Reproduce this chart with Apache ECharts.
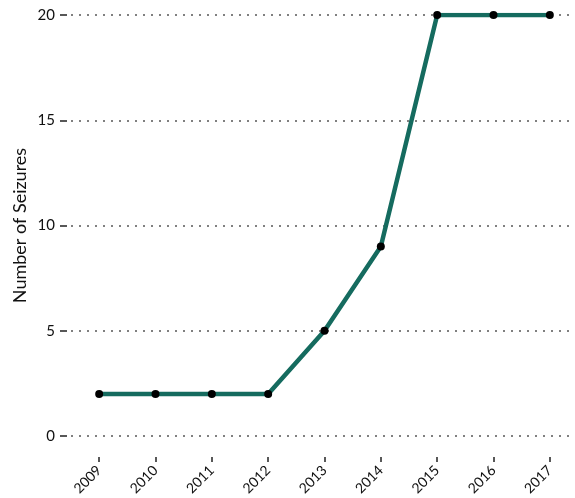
<!DOCTYPE html>
<html><head><meta charset="utf-8">
<script src="https://cdn.jsdelivr.net/npm/echarts@6/dist/echarts.min.js"></script>
<style>html,body{margin:0;padding:0;background:#fff}#c{width:575px;height:498px}</style>
</head><body><div id="c"></div>
<script>
const years = ['2009','2010','2011','2012','2013','2014','2015','2016','2017'];
const seizures = [2, 2, 2, 2, 5, 9, 20, 20, 20];
const yTicks = [0, 5, 10, 15, 20];
const FONT = 'Lato, "Open Sans", sans-serif';
const chart = echarts.init(document.getElementById('c'), null, {renderer:'canvas'});
chart.setOption({
  animation: false,
  backgroundColor: '#fff',
  grid: {left: 71, right: -3, top: 15, bottom: 62, containLabel: false, outerBoundsMode: 'none'},
  xAxis: {
    type: 'category', data: years, boundaryGap: true, offset: 21,
    axisLine: {show: false, onZero: false},
    axisTick: {show: true, alignWithLabel: true, length: 5, lineStyle: {color: '#222', width: 1.5}},
    axisLabel: {rotate: 45, margin: 11, fontFamily: FONT, fontSize: 14, color: '#111'},
    splitLine: {show: false}
  },
  yAxis: {
    type: 'value', min: yTicks[0], max: yTicks[yTicks.length-1], interval: 5, offset: 4,
    name: 'Number of Seizures', nameLocation: 'middle', nameGap: 38, nameMoveOverlap: false,
    nameTextStyle: {fontFamily: FONT, fontSize: 18, color: '#111'},
    axisLine: {show: false, onZero: false},
    axisTick: {show: true, length: 7, lineStyle: {color: '#222', width: 1.5}},
    axisLabel: {margin: 12, fontFamily: FONT, fontSize: 15, color: '#111'},
    splitLine: {show: true, lineStyle: {color: '#808080', width: 2, type: [2, 6]}}
  },
  series: [{
    type: 'line', data: seizures,
    lineStyle: {color: '#156b5f', width: 4.5},
    itemStyle: {color: '#000'},
    symbol: 'circle', symbolSize: 8, showSymbol: true
  }]
});
</script></body></html>
